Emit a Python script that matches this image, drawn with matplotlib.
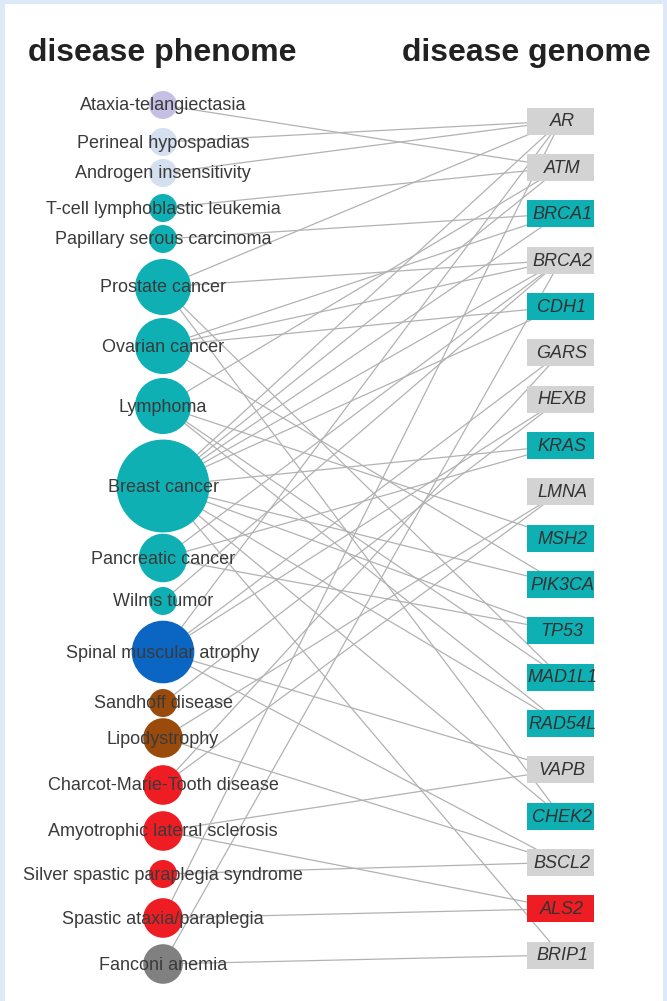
import numpy as np
import matplotlib
matplotlib.use("Agg")
import matplotlib.pyplot as plt
from matplotlib.patches import Circle, Rectangle

plt.rcParams['font.family'] = ['Liberation Sans', 'DejaVu Sans']

# ---- data ----
diseases = ["Ataxia-telangiectasia", "Perineal hypospadias", "Androgen insensitivity",
            "T-cell lymphoblastic leukemia", "Papillary serous carcinoma", "Prostate cancer",
            "Ovarian cancer", "Lymphoma", "Breast cancer", "Pancreatic cancer", "Wilms tumor",
            "Spinal muscular atrophy", "Sandhoff disease", "Lipodystrophy",
            "Charcot-Marie-Tooth disease", "Amyotrophic lateral sclerosis",
            "Silver spastic paraplegia syndrome", "Spastic ataxia/paraplegia", "Fanconi anemia"]
disease_class = ["immunological", "developmental", "endocrine", "cancer", "cancer", "cancer",
                 "cancer", "cancer", "cancer", "cancer", "cancer", "muscular", "metabolic",
                 "metabolic", "neurological", "neurological", "neurological", "neurological",
                 "hematological"]

genes = ["AR", "ATM", "BRCA1", "BRCA2", "CDH1", "GARS", "HEXB", "KRAS", "LMNA", "MSH2",
         "PIK3CA", "TP53", "MAD1L1", "RAD54L", "VAPB", "CHEK2", "BSCL2", "ALS2", "BRIP1"]
gene_class = ["multiple", "multiple", "cancer", "multiple", "cancer", "multiple", "multiple",
              "cancer", "multiple", "cancer", "cancer", "cancer", "cancer", "cancer",
              "multiple", "cancer", "multiple", "neurological", "multiple"]

links = [
    ("Ataxia-telangiectasia", "ATM"),
    ("Perineal hypospadias", "AR"),
    ("Androgen insensitivity", "AR"),
    ("T-cell lymphoblastic leukemia", "ATM"),
    ("Papillary serous carcinoma", "BRCA1"),
    ("Prostate cancer", "AR"), ("Prostate cancer", "BRCA2"),
    ("Prostate cancer", "MAD1L1"), ("Prostate cancer", "CHEK2"),
    ("Ovarian cancer", "BRCA1"), ("Ovarian cancer", "BRCA2"),
    ("Ovarian cancer", "CDH1"), ("Ovarian cancer", "PIK3CA"),
    ("Lymphoma", "ATM"), ("Lymphoma", "MSH2"), ("Lymphoma", "MAD1L1"), ("Lymphoma", "RAD54L"),
    ("Breast cancer", "AR"), ("Breast cancer", "ATM"), ("Breast cancer", "BRCA1"),
    ("Breast cancer", "BRCA2"), ("Breast cancer", "CDH1"), ("Breast cancer", "KRAS"),
    ("Breast cancer", "PIK3CA"), ("Breast cancer", "TP53"), ("Breast cancer", "RAD54L"),
    ("Breast cancer", "CHEK2"), ("Breast cancer", "BRIP1"),
    ("Pancreatic cancer", "BRCA2"), ("Pancreatic cancer", "KRAS"), ("Pancreatic cancer", "TP53"),
    ("Wilms tumor", "BRCA2"),
    ("Spinal muscular atrophy", "AR"), ("Spinal muscular atrophy", "GARS"),
    ("Spinal muscular atrophy", "HEXB"), ("Spinal muscular atrophy", "VAPB"),
    ("Spinal muscular atrophy", "BSCL2"),
    ("Sandhoff disease", "HEXB"),
    ("Lipodystrophy", "LMNA"), ("Lipodystrophy", "BSCL2"),
    ("Charcot-Marie-Tooth disease", "GARS"), ("Charcot-Marie-Tooth disease", "LMNA"),
    ("Amyotrophic lateral sclerosis", "VAPB"), ("Amyotrophic lateral sclerosis", "ALS2"),
    ("Silver spastic paraplegia syndrome", "BSCL2"),
    ("Spastic ataxia/paraplegia", "ALS2"), ("Spastic ataxia/paraplegia", "AR"),
    ("Fanconi anemia", "BRCA2"), ("Fanconi anemia", "BRIP1"),
]

# ---- layout / style ----
disease_y = [105, 142, 173, 208, 239, 287, 346, 406, 486, 558, 601, 652,
             703, 738, 785, 831, 874, 918, 964]
x_dis = 163
x_gene = 561
gene_y = np.linspace(121, 955, len(genes))

class_colors = {
    "immunological": "#c6bfe4",
    "developmental": "#d4dfef",
    "endocrine": "#d4dfef",
    "cancer": "#0fb0b4",
    "muscular": "#0b65c2",
    "metabolic": "#9a4b0c",
    "neurological": "#ee1d24",
    "hematological": "#808080",
    "multiple": "#d3d3d3",
}

degree = {d: 0 for d in diseases}
for d, g in links:
    degree[d] += 1

fig = plt.figure(figsize=(6.67, 10.01), dpi=100, facecolor="#dde9f6")
ax = fig.add_axes([0, 0, 1, 1])
ax.set_xlim(0, 667)
ax.set_ylim(1001, 0)
ax.axis("off")
ax.add_patch(Rectangle((5, 4), 658, 1000, facecolor="white", edgecolor="none", zorder=0))

# edges
for d, g in links:
    yd = disease_y[diseases.index(d)]
    yg = gene_y[genes.index(g)]
    ax.plot([x_dis, x_gene], [yd, yg], color="#b2b2b2", lw=0.9, zorder=1)

# disease nodes
for i, d in enumerate(diseases):
    r = 14 * np.sqrt(degree[d])
    ax.add_patch(Circle((x_dis, disease_y[i]), r, facecolor=class_colors[disease_class[i]],
                        edgecolor="none", zorder=2))
    ax.text(x_dis, disease_y[i] + 1, d, ha="center", va="center", fontsize=13,
            color="#3a3a3a", zorder=4)

# gene nodes
for i, g in enumerate(genes):
    ax.add_patch(Rectangle((527, gene_y[i] - 13.5), 67, 27, facecolor=class_colors[gene_class[i]],
                           edgecolor="none", zorder=3))
    ax.text(562, gene_y[i] + 1, g, ha="center", va="center", fontsize=13, style="italic",
            color="#333333", zorder=4)

ax.text(162, 61, "disease phenome", ha="center", va="baseline", fontsize=23,
        fontweight="bold", color="#222222")
ax.text(526, 61, "disease genome", ha="center", va="baseline", fontsize=23,
        fontweight="bold", color="#222222")

fig.savefig("out.png", dpi=100, facecolor=fig.get_facecolor())
